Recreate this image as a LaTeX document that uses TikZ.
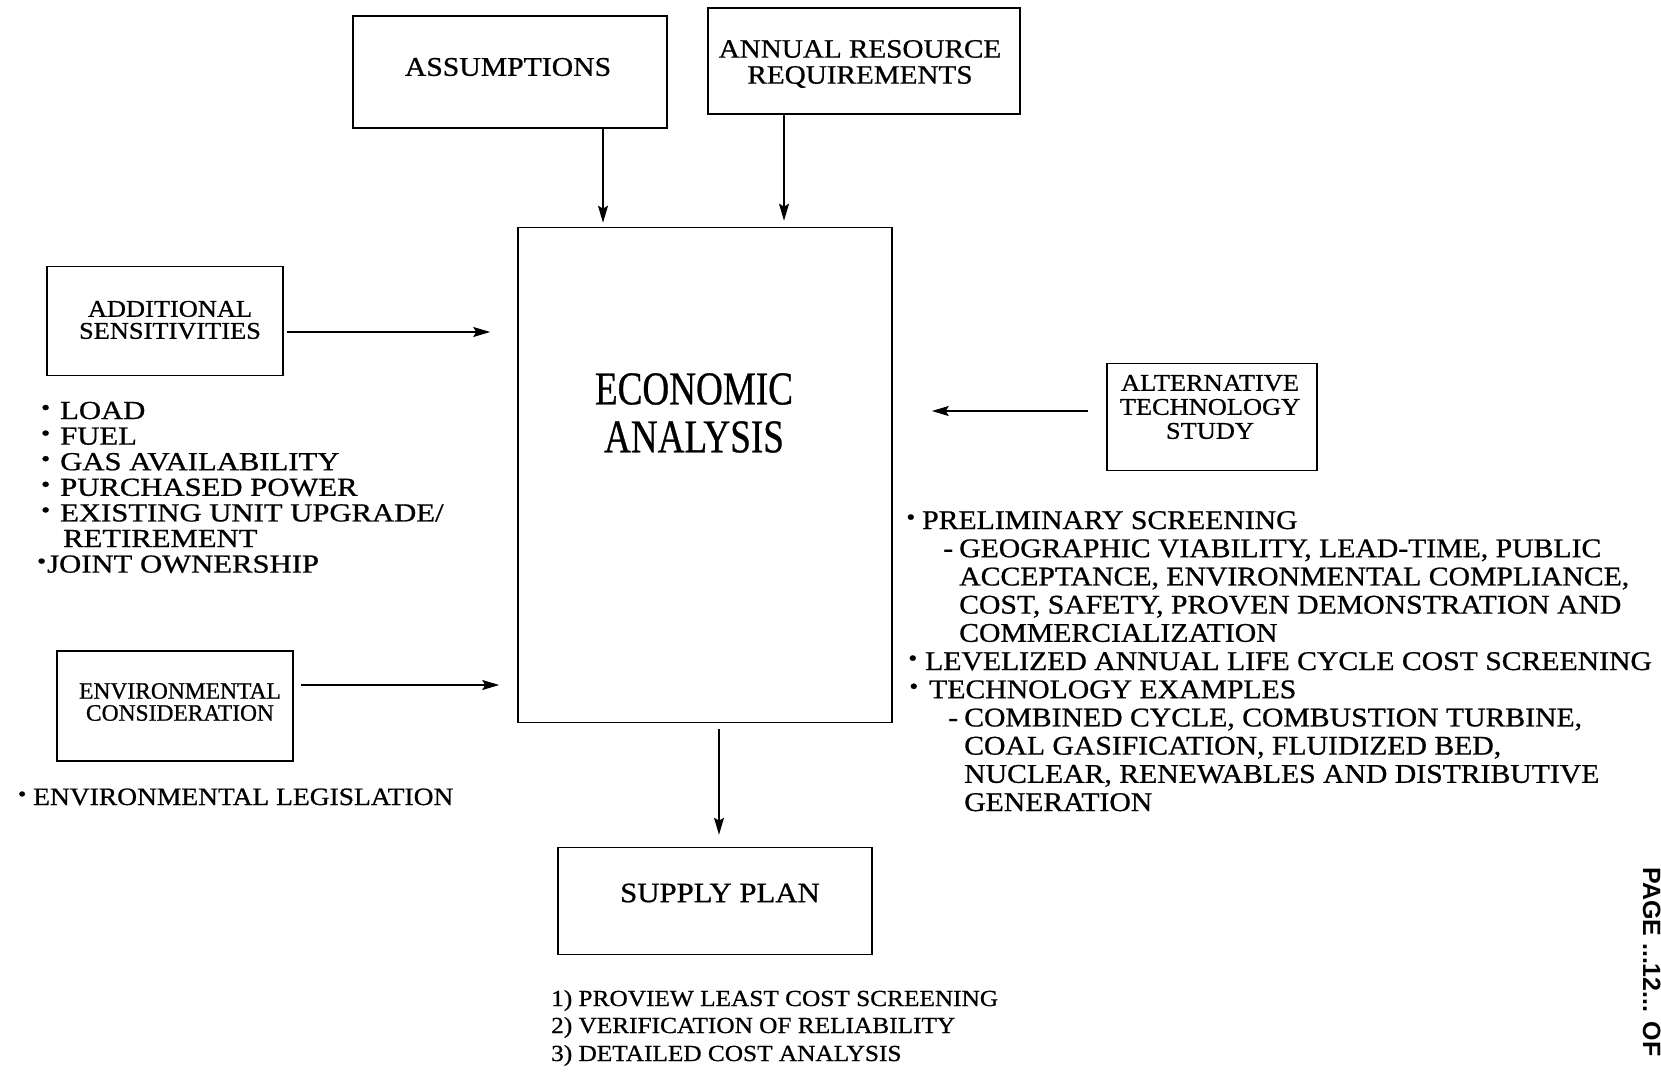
\documentclass[tikz,border=0pt]{standalone}
\usepackage{fontspec}
\usetikzlibrary{arrows.meta}
\setmainfont{Liberation Serif}
\newfontfamily\fW[FakeStretch=1.10, FakeBold=0.8]{Liberation Serif}
\newfontfamily\fA[FakeStretch=1.18, FakeBold=0.8]{Liberation Serif}
\newfontfamily\fN[FakeBold=0.8]{Liberation Serif}
\newfontfamily\fC[FakeStretch=0.79, FakeBold=0.6]{Liberation Serif}
\newfontfamily\fP{Liberation Sans}
% hanging bullet / dash placed #1 to the left of the text start
\newcommand\bul[1]{\llap{\raisebox{0.16em}{\scalebox{0.85}{\textbullet}}\hspace*{#1}}}
\newcommand\dsh[1]{\llap{-\hspace*{#1}}}

\tikzset{
  box/.style={draw, line width=1.6pt, inner sep=0pt},
  lbl/.style={inner sep=0pt, align=center},
  ln/.style={inner sep=0pt, anchor=base west},
  leftlist/.style={ln, font=\fA\fontsize{26}{26}\selectfont},
  rightlist/.style={ln, font=\fW\fontsize{27}{27}\selectfont},
  botlist/.style={ln, font=\fW\fontsize{23}{23}\selectfont},
  arr/.style={line width=1.5pt, -{Stealth[length=17pt, width=10pt, inset=3pt]}}
}

\begin{document}
\begin{tikzpicture}[x=1pt, y=-1pt]
\useasboundingbox[fill=white] (0,0) rectangle (1661,1076);

% boxes
\node[box, minimum width=314, minimum height=112] (asm)  at (510,72)  {};
\node[box, minimum width=312, minimum height=106] (ann)  at (864,61)  {};
\node[box, minimum width=236, minimum height=109] (add)  at (165,321) {};
\node[box, minimum width=236, minimum height=110] (env)  at (175,706) {};
\node[box, minimum width=210, minimum height=107] (alt)  at (1212,417) {};
\node[box, minimum width=314, minimum height=107] (sup)  at (715,901) {};
\node[box, minimum width=374, minimum height=495] (econ) at (705,475) {};

% box captions
\node[lbl, font=\fW\fontsize{27}{27}\selectfont] (tasm) at (508,67) {ASSUMPTIONS};
\node[lbl, font=\fW\fontsize{26.5}{26}\selectfont] (tann) at (860,64) {ANNUAL RESOURCE\\REQUIREMENTS};
\node[lbl, font=\fW\fontsize{24}{22}\selectfont] (tadd) at (170,320) {ADDITIONAL\\SENSITIVITIES};
\node[lbl, font=\fN\fontsize{23.5}{22}\selectfont] (tenv) at (180,702) {ENVIRONMENTAL\\CONSIDERATION};
\node[lbl, font=\fW\fontsize{24}{24}\selectfont] (talt) at (1210,407) {ALTERNATIVE\\TECHNOLOGY\\STUDY};
\node[lbl, font=\fW\fontsize{28}{28}\selectfont] (tsup) at (720,893) {SUPPLY PLAN};
\node[lbl, font=\fC\fontsize{47}{48}\selectfont] (tecon) at (694,413) {ECONOMIC\\ANALYSIS};

% connectors
\coordinate (xa) at (603,0);
\coordinate (xb) at (784,0);
\coordinate (ya) at (0,332);
\coordinate (ye) at (0,685);
\coordinate (yt) at (0,411);
\coordinate (xs) at (719,0);
\draw[arr, shorten >=4pt] (asm.south -| xa) -- (econ.north -| xa);
\draw[arr, shorten >=6pt] (ann.south -| xb) -- (econ.north -| xb);
\draw[arr, shorten <=3pt, shorten >=27pt] (add.east |- ya) -- (econ.west |- ya);
\draw[arr, shorten <=7pt, shorten >=18pt] (env.east |- ye) -- (econ.west |- ye);
\draw[arr, shorten <=18pt, shorten >=39pt] (alt.west |- yt) -- (econ.east |- yt);
\draw[arr, shorten <=6pt, shorten >=12pt] (econ.south -| xs) -- (sup.north -| xs);

% sensitivities list
\node[leftlist] (s1) at (60,419)   {\bul{10pt}LOAD};
\node[leftlist] (s2) at (60,444.6) {\bul{10pt}FUEL};
\node[leftlist] (s3) at (60,470.2) {\bul{10pt}GAS AVAILABILITY};
\node[leftlist] (s4) at (60,495.8) {\bul{10pt}PURCHASED POWER};
\node[leftlist] (s5) at (60,521.4) {\bul{10pt}EXISTING UNIT UPGRADE/};
\node[leftlist] (s6) at (63,547)   {RETIREMENT};
\node[leftlist] (s7) at (47,572.6) {\bul{1pt}JOINT OWNERSHIP};

% environmental list
\node[leftlist, font=\fW\fontsize{25}{25}\selectfont] (e1) at (33,805) {\bul{7pt}ENVIRONMENTAL LEGISLATION};

% technology study list
\node[rightlist] (r1)  at (922,529)   {\bul{7pt}PRELIMINARY SCREENING};
\node[rightlist] (r2)  at (959,557.2) {\dsh{6pt}GEOGRAPHIC VIABILITY, LEAD-TIME, PUBLIC};
\node[rightlist] (r3)  at (959,585.4) {ACCEPTANCE, ENVIRONMENTAL COMPLIANCE,};
\node[rightlist] (r4)  at (959,613.6) {COST, SAFETY, PROVEN DEMONSTRATION AND};
\node[rightlist] (r5)  at (959,641.8) {COMMERCIALIZATION};
\node[rightlist] (r6)  at (925,670)   {\bul{8pt}LEVELIZED ANNUAL LIFE CYCLE COST SCREENING};
\node[rightlist] (r7)  at (929,698.2) {\bul{11pt}TECHNOLOGY EXAMPLES};
\node[rightlist] (r8)  at (964,726.4) {\dsh{6pt}COMBINED CYCLE, COMBUSTION TURBINE,};
\node[rightlist] (r9)  at (964,754.6) {COAL GASIFICATION, FLUIDIZED BED,};
\node[rightlist] (r10) at (964,782.8) {NUCLEAR, RENEWABLES AND DISTRIBUTIVE};
\node[rightlist] (r11) at (964,811)   {GENERATION};

% supply plan list
\node[botlist] (p1) at (551,1006) {1) PROVIEW LEAST COST SCREENING};
\node[botlist] (p2) at (551,1033) {2) VERIFICATION OF RELIABILITY};
\node[botlist] (p3) at (551,1061) {3) DETAILED COST ANALYSIS};

% page stamp along the right edge
\node[inner sep=0pt, anchor=base west, rotate=-90, font=\fP\bfseries\fontsize{25}{25}\selectfont] (pg) at (1643,867) {PAGE ...12... OF};
\end{tikzpicture}
\end{document}
